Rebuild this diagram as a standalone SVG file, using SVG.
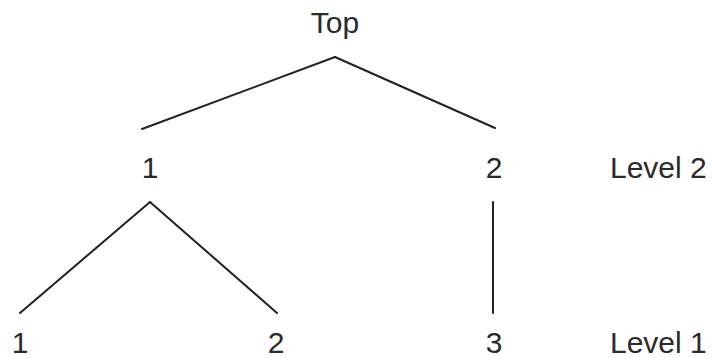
<svg xmlns="http://www.w3.org/2000/svg" width="712" height="358" viewBox="0 0 712 358">
<style>
text{font-family:"Liberation Sans",Arial,sans-serif;font-size:30px;fill:#2a2a2a;text-anchor:middle}
.lbl{text-anchor:start}
.c line{stroke:#222;stroke-width:2;stroke-linecap:round}
</style>
<rect width="712" height="358" fill="#fff"/>
<g class="c" id="connectors">
<line x1="335" y1="57" x2="142" y2="129"/>
<line x1="335" y1="57" x2="495" y2="128"/>
<line x1="150" y1="202" x2="20" y2="313"/>
<line x1="150" y1="202" x2="277" y2="313"/>
<line x1="493" y1="202" x2="493" y2="313"/>
</g>
<g id="top"><text x="335" y="33">Top</text></g>
<g id="n1"><text x="150" y="178">1</text></g>
<g id="n2"><text x="494" y="178">2</text></g>
<g id="n11"><text x="20" y="353">1</text></g>
<g id="n12"><text x="276" y="353">2</text></g>
<g id="n23"><text x="494" y="353">3</text></g>
<g id="level2"><text class="lbl" x="610" y="178">Level 2</text></g>
<g id="level1"><text class="lbl" x="610" y="353">Level 1</text></g>
</svg>
